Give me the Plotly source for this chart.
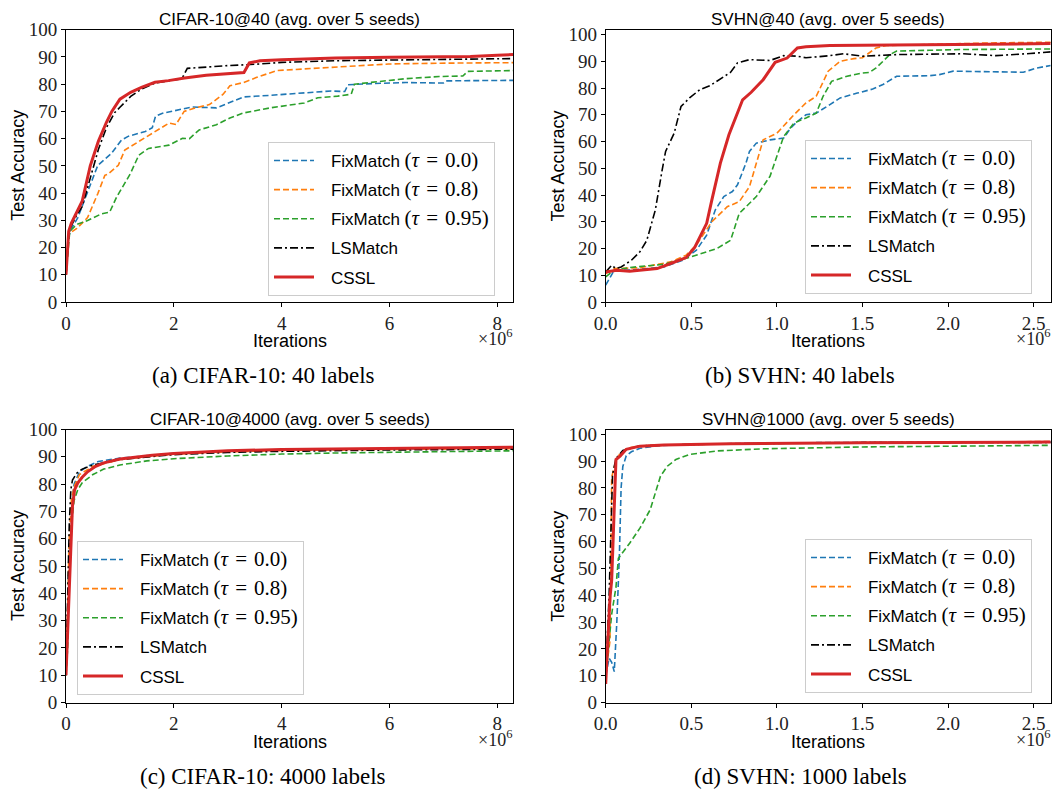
import plotly.graph_objects as go

# ---------------- data (x in units of 1e6 iterations) ----------------
# (a) CIFAR-10@40
a_fm00_x = [0, 0.05, 0.1, 0.22, 0.34, 0.5, 0.59, 0.84, 1.03, 1.16, 1.47, 1.6, 1.66, 1.79, 2.16, 2.33, 2.79, 3.1, 3.29, 3.79, 4.42, 4.92, 5.17, 5.23, 5.67, 6.3, 7.0, 7.05, 7.6, 8.29]
a_fm00_y = [10, 24, 27, 31, 37.3, 46, 50.2, 54.5, 59.5, 60.9, 62.6, 64, 68.2, 69.3, 71.0, 71.6, 71.3, 73.8, 75.3, 75.9, 76.9, 77.5, 77.3, 79.8, 80.2, 80.6, 80.4, 81.2, 81.3, 81.4]
a_fm08_x = [0, 0.05, 0.2, 0.4, 0.59, 0.72, 0.78, 0.97, 1.09, 1.35, 1.66, 1.91, 2.04, 2.19, 2.4, 2.66, 2.91, 3.04, 3.29, 3.54, 3.91, 4.42, 5.04, 5.67, 5.98, 6.92, 8.29]
a_fm08_y = [10, 25, 27, 31, 39.8, 46.5, 47, 50.2, 55.8, 58.9, 62.6, 65.7, 65.2, 70.0, 71.3, 72.5, 76.2, 79.4, 80.6, 82.5, 85.0, 85.6, 86.2, 86.9, 87.4, 87.7, 87.9]
a_fm95_x = [0, 0.07, 0.2, 0.4, 0.66, 0.81, 0.94, 1.09, 1.19, 1.35, 1.53, 1.91, 2.16, 2.29, 2.47, 2.79, 3.04, 3.29, 3.79, 4.42, 4.67, 5.04, 5.29, 5.35, 5.67, 6.3, 6.92, 7.36, 7.45, 8.29]
a_fm95_y = [10, 26, 28.5, 29.9, 32.4, 33, 38.6, 43.6, 47, 53.9, 56.4, 57.6, 60.1, 60.0, 63.2, 65.1, 67.6, 69.4, 71.3, 73.1, 75.0, 75.6, 76.3, 80.0, 80.6, 82.0, 82.8, 83.0, 84.7, 85.0]
a_ls_x = [0, 0.05, 0.1, 0.2, 0.3, 0.45, 0.6, 0.75, 0.9, 1.0, 1.2, 1.4, 1.65, 1.9, 2.15, 2.25, 2.5, 3.0, 3.5, 4.0, 5.0, 6.0, 7.0, 8.0, 8.29]
a_ls_y = [10, 25, 28, 32, 35, 46, 56, 64, 69.5, 71.5, 75.5, 78.2, 80.4, 81.2, 82, 85.8, 86.2, 86.8, 87.3, 88, 88.6, 88.9, 89.1, 89.3, 89.4]
a_cs_x = [0, 0.05, 0.1, 0.2, 0.3, 0.45, 0.6, 0.75, 0.85, 1.0, 1.2, 1.4, 1.65, 1.9, 2.2, 2.6, 3.0, 3.3, 3.4, 3.6, 4.0, 4.5, 5.0, 6.0, 7.0, 7.5, 8.0, 8.29]
a_cs_y = [10, 26, 29, 33, 37, 50, 59, 66, 70, 74.5, 77, 78.8, 80.7, 81.3, 82.3, 83.3, 83.8, 84.3, 87.8, 88.6, 89, 89.4, 89.6, 89.9, 90, 90.2, 90.6, 90.9]

# (b) SVHN@40
b_fm00_x = [0, 0.05, 0.14, 0.34, 0.45, 0.53, 0.59, 0.64, 0.69, 0.74, 0.77, 0.82, 0.84, 0.88, 0.96, 1.04, 1.08, 1.12, 1.17, 1.23, 1.31, 1.37, 1.47, 1.56, 1.62, 1.7, 1.89, 1.95, 2.03, 2.28, 2.44, 2.52, 2.6]
b_fm00_y = [6.3, 11.9, 11.9, 13.1, 15.6, 19.4, 25, 34.4, 39.4, 41.3, 43.8, 52, 56.3, 59.4, 60.6, 61.3, 65, 67.5, 70, 70.6, 73.8, 76.3, 78.1, 79.6, 81.3, 84.4, 84.6, 85, 86.3, 85.9, 85.9, 87.5, 88.4]
b_fm08_x = [0, 0.05, 0.2, 0.38, 0.47, 0.53, 0.62, 0.71, 0.78, 0.84, 0.92, 1.0, 1.1, 1.17, 1.23, 1.3, 1.37, 1.45, 1.5, 1.58, 1.64, 1.89, 2.28, 2.6]
b_fm08_y = [10.6, 12.5, 12.8, 15, 17.5, 21.3, 30, 35.6, 37.5, 43.1, 60.6, 63.1, 70, 74.4, 76.9, 86.3, 90, 91, 91.3, 95, 95.9, 96.3, 96.9, 97.1]
b_fm95_x = [0, 0.05, 0.14, 0.34, 0.5, 0.65, 0.73, 0.78, 0.88, 0.96, 1.04, 1.1, 1.17, 1.23, 1.27, 1.32, 1.41, 1.5, 1.54, 1.58, 1.66, 1.7, 1.89, 2.09, 2.6]
b_fm95_y = [9.4, 11.9, 12.9, 14.1, 16.9, 20, 23.1, 33.1, 39.4, 47, 61.9, 66.9, 68.8, 70.6, 76.9, 82.5, 84.4, 85.6, 85.8, 87.5, 92.5, 93.8, 94.1, 94.4, 94.6]
b_ls_x = [0, 0.035, 0.06, 0.09, 0.15, 0.2, 0.24, 0.29, 0.33, 0.35, 0.4, 0.44, 0.49, 0.55, 0.61, 0.65, 0.73, 0.77, 0.84, 0.96, 1.04, 1.12, 1.17, 1.31, 1.39, 1.5, 1.7, 2.09, 2.28, 2.48, 2.6]
b_ls_y = [11.2, 13.7, 12.5, 13.1, 15.6, 18.8, 23, 34.4, 49.4, 56.3, 63.1, 73.1, 76.3, 79.4, 80.9, 82.5, 85.9, 89.4, 90.6, 90.3, 92.1, 91.9, 91.3, 92.1, 92.8, 91.9, 92.5, 92.8, 92.1, 92.9, 93.5]
b_cs_x = [0, 0.064, 0.14, 0.3, 0.38, 0.47, 0.52, 0.59, 0.62, 0.67, 0.72, 0.8, 0.85, 0.92, 0.99, 1.06, 1.12, 1.17, 1.31, 1.5, 1.7, 2.09, 2.6]
b_cs_y = [11.2, 11.9, 11.5, 12.5, 14.4, 16.6, 20.4, 29.4, 38.1, 51.9, 62.5, 75.6, 78.4, 83.1, 89.6, 91.2, 95, 95.4, 95.9, 96, 96.2, 96.2, 96.6]

# (c) CIFAR-10@4000
c_fm00_x = [0, 0.03, 0.06, 0.1, 0.15, 0.25, 0.4, 0.6, 1.0, 2.0, 3.0, 4.0, 6.0, 8.29]
c_fm00_y = [10, 35, 55, 72, 80, 84.5, 86.5, 88.3, 89.5, 91.3, 92.0, 92.5, 92.9, 93.2]
c_fm08_x = [0, 0.03, 0.06, 0.1, 0.15, 0.25, 0.5, 1.0, 2.0, 3.0, 4.0, 6.0, 8.29]
c_fm08_y = [10, 38, 60, 74, 79, 83.5, 86.5, 89, 91, 91.8, 92.3, 92.7, 93]
c_fm95_x = [0, 0.03, 0.06, 0.1, 0.15, 0.22, 0.3, 0.5, 0.7, 1.0, 1.5, 2.0, 3.0, 4.0, 5.0, 6.0, 8.29]
c_fm95_y = [10, 20, 45, 65, 74, 78, 80.5, 83.5, 85.5, 87, 88.5, 89.3, 90.3, 91, 91.4, 91.7, 92.2]
c_ls_x = [0, 0.03, 0.06, 0.09, 0.12, 0.2, 0.3, 0.5, 1.0, 2.0, 3.0, 4.0, 6.0, 8.29]
c_ls_y = [10, 40, 65, 78, 81.5, 84, 85.5, 87, 89, 90.8, 91.6, 92, 92.5, 92.8]
c_cs_x = [0, 0.03, 0.06, 0.09, 0.12, 0.16, 0.22, 0.3, 0.4, 0.55, 0.7, 1.0, 1.3, 1.6, 2.0, 2.5, 3.0, 4.0, 5.0, 6.0, 7.0, 8.0, 8.29]
c_cs_y = [10, 25, 42, 58, 72, 78, 80.5, 82.5, 84.5, 86.5, 87.8, 89.2, 90, 90.6, 91.2, 91.8, 92.2, 92.7, 92.9, 93.1, 93.2, 93.4, 93.5]

# (d) SVHN@1000
d_fm00_x = [0, 0.02, 0.035, 0.05, 0.065, 0.08, 0.09, 0.1, 0.12, 0.15, 0.2, 0.3, 0.5, 1.0, 1.5, 2.0, 2.6]
d_fm00_y = [10, 16.5, 15, 11.5, 30, 55, 80, 88, 92, 93.5, 94.8, 95.7, 96.3, 96.8, 97, 97.1, 97.2]
d_fm08_x = [0, 0.025, 0.035, 0.055, 0.084, 0.14, 0.2, 0.4, 1.0, 1.5, 2.0, 2.6]
d_fm08_y = [10.6, 23, 84, 89, 93.1, 95, 95.7, 96.1, 96.7, 97, 97.1, 97.3]
d_fm95_x = [0, 0.016, 0.035, 0.06, 0.074, 0.14, 0.2, 0.26, 0.32, 0.36, 0.41, 0.49, 0.65, 0.92, 1.5, 2.09, 2.6]
d_fm95_y = [9.4, 20.6, 33, 43, 53.8, 59.4, 65, 71.9, 84.4, 88.1, 90.6, 92.5, 93.8, 94.6, 95.3, 95.6, 95.9]
d_ls_x = [0, 0.02, 0.04, 0.06, 0.1, 0.2, 0.4, 0.8, 1.5, 2.6]
d_ls_y = [10, 40, 85, 91, 94, 95.7, 96.1, 96.5, 96.9, 97]
d_cs_x = [0, 0.025, 0.035, 0.06, 0.084, 0.12, 0.2, 0.34, 0.73, 1.5, 2.6]
d_cs_y = [6.9, 39, 45.6, 90.6, 91.9, 94.4, 95.6, 96, 96.5, 96.9, 97.1]

series_names = ["FixMatch (τ = 0.0)", "FixMatch (τ = 0.8)", "FixMatch (τ = 0.95)", "LSMatch", "CSSL"]
tau_values = ["0.0", "0.8", "0.95"]
panel_titles = ["CIFAR-10@40 (avg. over 5 seeds)", "SVHN@40 (avg. over 5 seeds)",
                "CIFAR-10@4000 (avg. over 5 seeds)", "SVHN@1000 (avg. over 5 seeds)"]
captions = ["(a) CIFAR-10: 40 labels", "(b) SVHN: 40 labels",
            "(c) CIFAR-10: 4000 labels", "(d) SVHN: 1000 labels"]
x_ticks_cifar = [0, 2, 4, 6, 8]
x_ticks_svhn = [0.0, 0.5, 1.0, 1.5, 2.0, 2.5]
y_ticks = list(range(0, 101, 10))

# ---------------- styling ----------------
W, H = 1053, 792
SANS = "Liberation Sans"
SERIF = "Liberation Serif"
colors = ["#1f77b4", "#ff7f0e", "#2ca02c", "black", "#d62728"]
dashes = ["6px,3px", "6px,3px", "6px,3px", "8px,3px,2px,3px", "solid"]
widths = [1.6, 1.6, 1.6, 1.6, 3.0]

def px_x(p):
    return p / W

def px_y(p):
    return 1 - p / H

dom_x = [[px_x(66), px_x(513)], [px_x(605.7), px_x(1050.7)]]
dom_y = [[px_y(302), px_y(29.7)], [px_y(702.5), px_y(429.5)]]
caption_cx = [263, 800]

panels = [
    dict(data=[(a_fm00_x, a_fm00_y), (a_fm08_x, a_fm08_y), (a_fm95_x, a_fm95_y), (a_ls_x, a_ls_y), (a_cs_x, a_cs_y)],
         col=0, row=0, xr=[0, 8.29], yr=[0, 100], xt=x_ticks_cifar, fmt="d", leg=(268, 142)),
    dict(data=[(b_fm00_x, b_fm00_y), (b_fm08_x, b_fm08_y), (b_fm95_x, b_fm95_y), (b_ls_x, b_ls_y), (b_cs_x, b_cs_y)],
         col=1, row=0, xr=[0, 2.6], yr=[0, 101.8], xt=x_ticks_svhn, fmt=".1f", leg=(805, 140)),
    dict(data=[(c_fm00_x, c_fm00_y), (c_fm08_x, c_fm08_y), (c_fm95_x, c_fm95_y), (c_ls_x, c_ls_y), (c_cs_x, c_cs_y)],
         col=0, row=1, xr=[0, 8.29], yr=[0, 100], xt=x_ticks_cifar, fmt="d", leg=(77, 541)),
    dict(data=[(d_fm00_x, d_fm00_y), (d_fm08_x, d_fm08_y), (d_fm95_x, d_fm95_y), (d_ls_x, d_ls_y), (d_cs_x, d_cs_y)],
         col=1, row=1, xr=[0, 2.6], yr=[0, 101.8], xt=x_ticks_svhn, fmt=".1f", leg=(805, 539)),
]

LEAD = "\u2002\u2009"

def legend_label(i):
    if i < 3:
        return (LEAD + "FixMatch <span style=\"font-family:Liberation Serif;font-size:21px\">(<i>τ</i>\u2004=\u2004"
                + tau_values[i] + ")</span>")
    return LEAD + series_names[i]

fig = go.Figure()
layout = dict(width=W, height=H, margin=dict(l=0, r=0, t=0, b=0, autoexpand=False),
              template="none",
              paper_bgcolor="white", plot_bgcolor="white", showlegend=True)
annotations = []

for k, p in enumerate(panels):
    n = "" if k == 0 else str(k + 1)
    legname = "legend" + n
    for i, (xs, ys) in enumerate(p["data"]):
        fig.add_trace(go.Scatter(
            x=xs, y=ys, mode="lines", name=legend_label(i),
            line=dict(color=colors[i], dash=dashes[i], width=widths[i]),
            xaxis="x" + n, yaxis="y" + n, legend=legname,
            legendgroup=f"p{k}s{i}", hoverinfo="skip"))
    axis_common = dict(showline=True, linecolor="black", linewidth=1, mirror=True,
                       ticks="outside", ticklen=4, tickwidth=1, tickcolor="black",
                       showgrid=False, zeroline=False, automargin=False,
                       tickfont=dict(family=SERIF, size=19, color="#222"))
    layout["xaxis" + n] = dict(axis_common, domain=dom_x[p["col"]], range=p["xr"],
                               anchor="y" + n, tickvals=p["xt"], tickformat=p["fmt"])
    layout["yaxis" + n] = dict(axis_common, domain=dom_y[p["row"]], range=p["yr"],
                               anchor="x" + n, tickvals=y_ticks)
    lx, ly = p["leg"]
    layout[legname] = dict(x=px_x(lx), y=px_y(ly), xanchor="left", yanchor="top",
                           xref="paper", yref="paper",
                           bgcolor="rgba(255,255,255,0.85)", bordercolor="#cccccc", borderwidth=1,
                           font=dict(family=SANS, size=17, color="black"),
                           tracegroupgap=4, itemwidth=40)
    x0, x1 = dom_x[p["col"]]
    y0, y1 = dom_y[p["row"]]
    top_px = 29.7 if p["row"] == 0 else 429.5
    bot_px = 302 if p["row"] == 0 else 702.5
    left_px = 66 if p["col"] == 0 else 605.7
    right_px = 513 if p["col"] == 0 else 1050.7
    cx = (x0 + x1) / 2
    annotations += [
        dict(text=panel_titles[k], x=cx, y=px_y(top_px - 10.5), xref="paper", yref="paper",
             showarrow=False, xanchor="center", yanchor="middle",
             font=dict(family=SANS, size=17, color="black")),
        dict(text="Iterations", x=cx, y=px_y(bot_px + 39), xref="paper", yref="paper",
             showarrow=False, xanchor="center", yanchor="middle",
             font=dict(family=SANS, size=18, color="black")),
        dict(text="×10<sup>6</sup>", x=px_x(right_px + 1), y=px_y(bot_px + 36), xref="paper", yref="paper",
             showarrow=False, xanchor="right", yanchor="middle",
             font=dict(family=SERIF, size=18, color="#222")),
        dict(text="Test Accuracy", x=px_x(left_px - 48), y=(y0 + y1) / 2, xref="paper", yref="paper",
             showarrow=False, xanchor="center", yanchor="middle", textangle=-90,
             font=dict(family=SANS, size=18, color="black")),
        dict(text=captions[k], x=px_x(caption_cx[p["col"]]), y=px_y(bot_px + 74), xref="paper", yref="paper",
             showarrow=False, xanchor="center", yanchor="middle",
             font=dict(family=SERIF, size=23, color="black")),
    ]

layout["annotations"] = annotations
fig.update_layout(**layout)
fig.write_html("out.html", config={"displayModeBar": False},
               post_script="document.body.style.margin='0px';document.body.style.overflow='hidden';")
